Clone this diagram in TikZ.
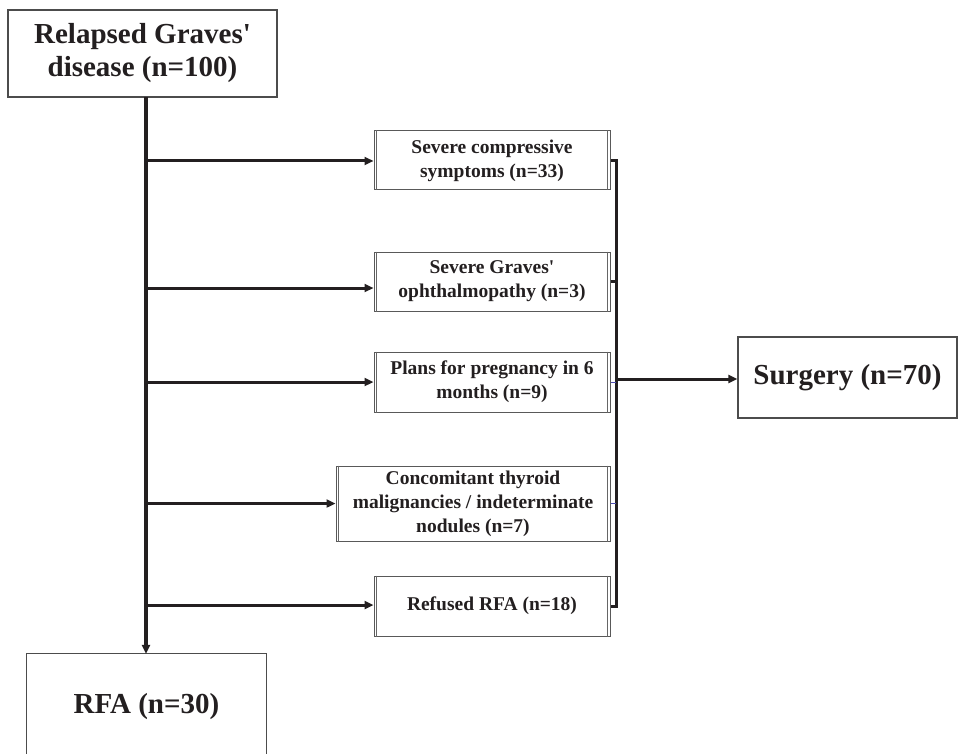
\documentclass[tikz,border=0pt]{standalone}
\usepackage{fontspec}
\setmainfont{Liberation Serif}[Ligatures=TeXOff]
\usetikzlibrary{arrows.meta}
\definecolor{ink}{HTML}{231F20}
\begin{document}
\begin{tikzpicture}[x=1pt,y=-1pt,
  bigbox/.style={draw=black!70, line width=1.2pt, inner sep=0pt, align=center, text=ink,
    font=\fontsize{29}{33}\selectfont\bfseries},
  smallbox/.style={draw=black!65, line width=1pt, inner sep=0pt, align=center, text=ink,
    font=\fontsize{19.5}{24}\selectfont\bfseries},
  dblline/.style={draw=black!60, line width=0.8pt},
  conn/.style={draw=ink, line width=3pt},
  arr/.style={conn, -{Triangle[length=9pt,width=8pt]}},
  faint/.style={draw=blue!40!gray, line width=0.5pt}
]
\useasboundingbox[fill=white] (0,0) rectangle (958,754);

% nodes
\node[bigbox, minimum width=269pt, minimum height=87pt] (top) at (142.5,53.5) {Relapsed Graves'\\disease (n=100)};
\node[smallbox, minimum width=236pt, minimum height=59pt] (b1) at (492,160.5) {Severe compressive\\symptoms (n=33)};
\node[smallbox, minimum width=236pt, minimum height=59pt] (b2) at (492,281.5) {Severe Graves'\\ophthalmopathy (n=3)};
\node[smallbox, minimum width=236pt, minimum height=60pt] (b3) at (492,382) {Plans for pregnancy in 6\\months (n=9)};
\node[smallbox, minimum width=274pt, minimum height=75pt] (b4) at (473,503.5) {Concomitant thyroid\\malignancies / indeterminate\\nodules (n=7)};
\node[smallbox, minimum width=236pt, minimum height=60pt] (b5) at (492,606) {Refused RFA (n=18)};
\node[bigbox, minimum width=219pt, minimum height=81pt] (surg) at (847.5,377.5) {Surgery (n=70)};
\node[inner sep=0pt, minimum width=239pt, minimum height=106pt, text=ink,
  font=\fontsize{29}{33}\selectfont\bfseries] (rfa) at (146.5,707) {RFA (n=30)};
\draw[draw=black!70, line width=1.2pt] (rfa.south west) -- (rfa.north west) -- (rfa.north east) -- (rfa.south east);

% double side lines
\foreach \b in {b1,b2,b3,b4,b5}{
  \draw[dblline] ([xshift=3pt]\b.north west) -- ([xshift=3pt]\b.south west);
  \draw[dblline] ([xshift=-3pt]\b.north east) -- ([xshift=-3pt]\b.south east);
}

% main vertical
\coordinate (vtop) at (146,97);
\draw[arr, line width=3.5pt] (vtop) -- (vtop |- rfa.north);

% branches
\coordinate (v1) at (146,161);
\coordinate (v2) at (146,288);
\coordinate (v3) at (146,382);
\coordinate (v4) at (146,503.5);
\coordinate (v5) at (146,605);
\draw[arr] (v1) -- (v1 -| b1.west);
\draw[arr] (v2) -- (v2 -| b2.west);
\draw[arr] (v3) -- (v3 -| b3.west);
\draw[arr] (v4) -- (v4 -| b4.west);
\draw[arr] (v5) -- (v5 -| b5.west);

% bracket
\coordinate (k1) at (616,160.5);
\coordinate (k5) at (616,606);
\coordinate (km) at (616,379);
\draw[conn, line join=miter] (b1.east) -- (k1) -- (k5) -- (b5.east);
\draw[conn] (b2.east) -- (b2.east -| k1);
\draw[faint] (b3.east) -- (b3.east -| k1);
\draw[faint] (b4.east) -- (b4.east -| k1);
\draw[arr] (km) -- (km -| surg.west);
\end{tikzpicture}
\end{document}
